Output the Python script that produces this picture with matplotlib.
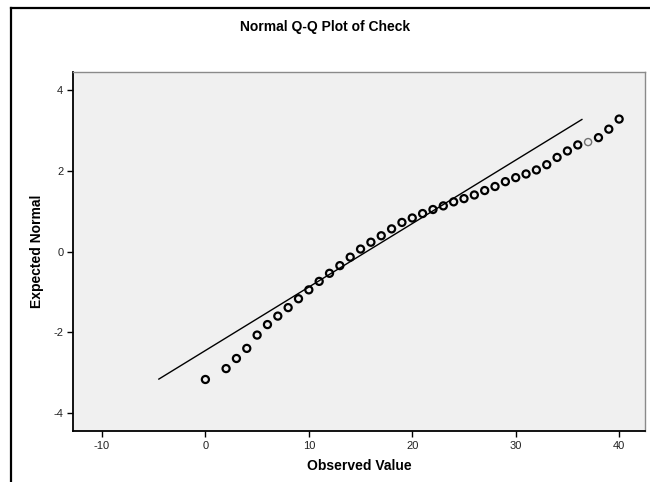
import matplotlib
matplotlib.use("Agg")
import matplotlib.pyplot as plt
from matplotlib.lines import Line2D

plt.rcParams["font.family"] = ["Liberation Sans", "DejaVu Sans"]

# Observed values of Check and their expected normal scores
observed = [0, 2, 3, 4, 5, 6, 7, 8, 9, 10, 11, 12, 13, 14, 15, 16, 17, 18, 19,
            20, 21, 22, 23, 24, 25, 26, 27, 28, 29, 30, 31, 32, 33, 34, 35, 36,
            37, 38, 39, 40]
expected = [-3.17, -2.90, -2.65, -2.40, -2.07, -1.81, -1.60, -1.39, -1.17, -0.95,
            -0.74, -0.54, -0.35, -0.14, 0.06, 0.23, 0.39, 0.56, 0.72, 0.83,
            0.94, 1.04, 1.13, 1.23, 1.31, 1.40, 1.51, 1.61, 1.73, 1.83,
            1.92, 2.02, 2.15, 2.33, 2.49, 2.64, 2.71, 2.82, 3.03, 3.28]

# reference line end points
line_x = [-4.5, 36.4]
line_y = [-3.16, 3.27]

x_ticks = [-10, 0, 10, 20, 30, 40]
y_ticks = [-4, -2, 0, 2, 4]

W, H = 650, 482
fig = plt.figure(figsize=(W / 100, H / 100), dpi=100)
fig.patch.set_facecolor("white")

ax = fig.add_axes([73 / W, 1 - 431 / H, (645 - 73) / W, (431 - 72) / H])
ax.set_facecolor("#f0f0f0")

ax.plot(line_x, line_y, color="black", lw=1.0, zorder=2)

# the point at 37 is drawn lighter
edge = ["#707070" if v == 37 else "black" for v in observed]
lw = [1.0 if v == 37 else 1.6 for v in observed]
ax.scatter(observed, expected, s=26, facecolors="none", edgecolors=edge,
           linewidths=lw, zorder=3)

ax.set_xlim(-12.8, 42.5)
ax.set_ylim(-4.446, 4.446)
ax.set_xticks(x_ticks)
ax.set_yticks(y_ticks)
ax.set_xticklabels([str(v) for v in x_ticks])
ax.set_yticklabels([str(v) for v in y_ticks])
ax.tick_params(direction="out", length=4.5, width=1.0, colors="black",
               labelsize=8, labelcolor="#222222", pad=2.5)

for side in ["left", "bottom"]:
    ax.spines[side].set_color("black")
    ax.spines[side].set_linewidth(1.3)
for side in ["top", "right"]:
    ax.spines[side].set_color("#8a8a8a")
    ax.spines[side].set_linewidth(1.0)

ax.set_xlabel("Observed Value", fontsize=10, fontweight="bold", va="center")
ax.xaxis.set_label_coords(0.5, (431 - 466) / (431 - 72))
ax.set_ylabel("Expected Normal", fontsize=10, fontweight="bold", va="center")
ax.yaxis.set_label_coords((37 - 73) / (645 - 73), 0.5)

fig.text(325 / W, 1 - 27 / H, "Normal Q-Q Plot of Check", ha="center",
         va="center", fontsize=10, fontweight="bold")

# outer frame along the top and left edge
fig.add_artist(Line2D([11 / W, 11 / W], [0, 1 - 8 / H], color="black",
                      lw=1.6, transform=fig.transFigure))
fig.add_artist(Line2D([11 / W, 1], [1 - 8 / H, 1 - 8 / H], color="black",
                      lw=1.6, transform=fig.transFigure))

fig.savefig("out.png", dpi=100)
